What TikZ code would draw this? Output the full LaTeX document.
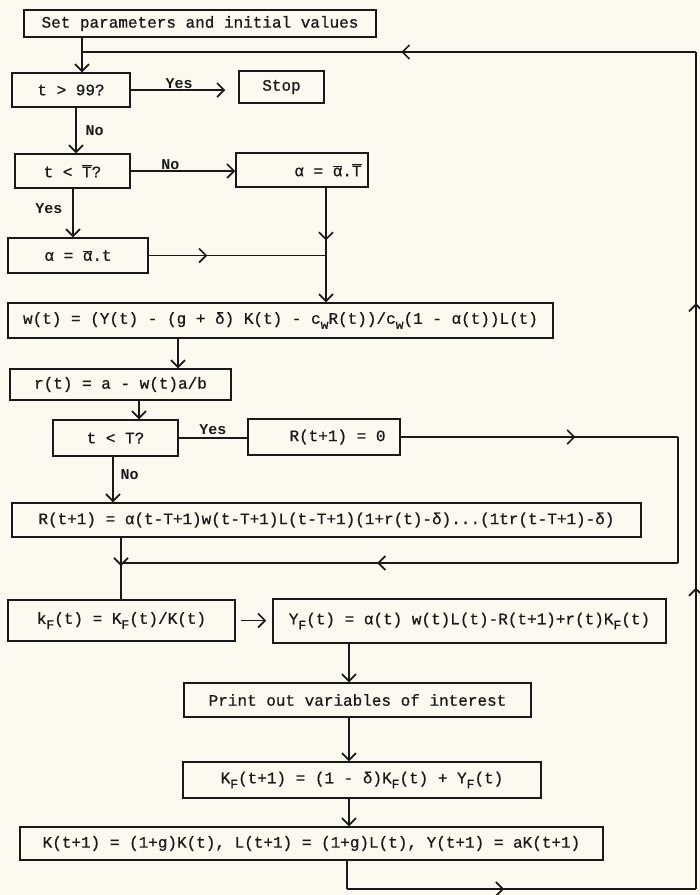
\documentclass[tikz,border=0pt]{standalone}
\usepackage{fontspec}
\newfontfamily\tw[FakeBold=0.7]{Liberation Mono}
\newfontfamily\twb{Liberation Mono Bold}
\usetikzlibrary{arrows.meta,decorations.markings}
\newcommand\ovl[1]{$\overline{\hbox{#1}}$}
\newcommand\sbs[1]{\raisebox{-0.6ex}{\fontsize{13}{13}\selectfont #1}}
\definecolor{paper}{RGB}{251,249,240}
\definecolor{ink}{RGB}{25,25,25}
\tikzset{
  barb/.tip={Straight Barb[length=7pt,width=14pt,line width=1.7pt]},
  box/.style={draw=ink, line width=1.5pt, inner sep=0pt, text=ink,
    font=\tw\fontsize{16}{19}\selectfont},
  txt/.style={inner sep=0pt, text=ink, font=\tw\fontsize{16}{19}\selectfont},
  conn/.style={draw=ink, line width=1.4pt},
  arr/.style={conn, -barb},
  midarr/.style={postaction={decorate, decoration={markings,
    mark=at position #1 with {\arrow{barb}}}}},
  lbl/.style={text=ink, font=\twb\fontsize{15}{15}\selectfont, inner sep=1pt}
}
\begin{document}
\begin{tikzpicture}[x=1pt,y=-1pt]
\fill[paper] (0,0) rectangle (700,895);
\useasboundingbox (0,0) rectangle (700,895);

% nodes
\node[box, minimum width=352pt, minimum height=27pt] (set) at (200,23.5) {Set parameters and initial values};
\node[box, minimum width=118pt, minimum height=34pt] (t99) at (71,90) {t > 99?};
\node[box, minimum width=85pt, minimum height=32pt] (stop) at (281.5,87) {Stop};
\node[box, minimum width=115pt, minimum height=34pt] (tTb) at (72.5,171) {t < \ovl{T}?};
\node[box, minimum width=132pt, minimum height=34pt] (aT) at (302,170) {};
\node[txt, anchor=east] (aTt) at ([xshift=-7pt]aT.east) {α = \ovl{α}.\ovl{T}};
\node[box, minimum width=140pt, minimum height=35pt] (at) at (78,255.5) {α = \ovl{α}.t};
\node[box, minimum width=545pt, minimum height=35pt] (w) at (280.5,320.5) {w(t) = (Y(t) - (g + δ) K(t) - c\sbs{w}R(t))/c\sbs{w}(1 - α(t))L(t)};
\node[box, minimum width=221pt, minimum height=31pt] (r) at (120.5,384.5) {r(t) = a - w(t)a/b};
\node[box, minimum width=125pt, minimum height=36pt] (tT) at (115.5,438) {t < T?};
\node[box, minimum width=152pt, minimum height=36pt] (R0) at (324,437) {};
\node[txt, anchor=east] (R0t) at ([xshift=-15pt]R0.east) {R(t+1) = 0};
\node[box, minimum width=629pt, minimum height=34pt] (R) at (326.5,520) {R(t+1) = α(t-T+1)w(t-T+1)L(t-T+1)(1+r(t)-δ)...(1tr(t-T+1)-δ)};
\node[box, minimum width=227pt, minimum height=41pt] (kF) at (121.5,620.5) {k\sbs{F}(t) = K\sbs{F}(t)/K(t)};
\node[box, minimum width=393pt, minimum height=44pt] (YF) at (469.5,621) {Y\sbs{F}(t) = α(t) w(t)L(t)-R(t+1)+r(t)K\sbs{F}(t)};
\node[box, minimum width=347pt, minimum height=34pt] (print) at (357.5,700) {Print out variables of interest};
\node[box, minimum width=358pt, minimum height=36pt] (KF) at (362,780) {K\sbs{F}(t+1) = (1 - δ)K\sbs{F}(t) + Y\sbs{F}(t)};
\node[box, minimum width=583pt, minimum height=33pt] (K) at (311.5,843.5) {K(t+1) = (1+g)K(t), L(t+1) = (1+g)L(t), Y(t+1) = aK(t+1)};

% lane coordinates
\coordinate (lt) at (82,52);
\coordinate (rt) at (696,52);
\coordinate (rb) at (696,889);
\coordinate (lb) at (347,889);
\coordinate (x76) at (76,0);
\coordinate (x73) at (73,0);
\coordinate (x326) at (326,0);
\coordinate (x178) at (178,0);
\coordinate (x139) at (139,0);
\coordinate (x113) at (113,0);
\coordinate (x121) at (121,0);
\coordinate (x349) at (349,0);
\coordinate (c1) at (678,434);
\coordinate (c2) at (678,563);

% connectors
\draw[arr] (set.south -| lt) -- (t99.north -| lt);
\draw[arr, shorten >=13pt] (t99.east) -- node[lbl, above, pos=0.45] {Yes} (t99.east -| stop.west);
\draw[arr] (t99.south -| x76) -- node[lbl, right=8pt] {No} (tTb.north -| x76);
\draw[arr] (tTb.east) -- node[lbl, above, pos=0.38] {No} (tTb.east -| aT.west);
\draw[arr] (tTb.south -| x73) -- node[lbl, left=9pt, pos=0.4] {Yes} (at.north -| x73);
\draw[arr, midarr=0.46] (aT.south -| x326) -- (w.north -| x326);
\draw[conn, midarr=0.33] (at.east) -- (at.east -| x326);
\draw[arr] (w.south -| x178) -- (r.north -| x178);
\draw[arr] (r.south -| x139) -- (tT.north -| x139);
\draw[conn] (tT.east) -- node[lbl, above=2pt] {Yes} (tT.east -| R0.west);
\draw[arr] (tT.south -| x113) -- node[lbl, right=6pt, pos=0.4] {No} (R.north -| x113);
\draw[conn, midarr=0.63] (R0.east) -- (R0.east -| c1);
\draw[conn] (R0.east -| c1) -- (c2);
\draw[conn, midarr=0.54] (c2) -- (c2 -| x121);
\draw[conn, midarr=0.46] (R.south -| x121) -- (kF.north -| x121);
\draw[arr, shorten <=5pt, shorten >=6pt] (kF.east) -- (kF.east -| YF.west);
\draw[arr] (YF.south -| x349) -- (print.north -| x349);
\draw[arr] (print.south -| x349) -- (KF.north -| x349);
\draw[arr] (KF.south -| x349) -- (K.north -| x349);
\draw[conn] (K.south -| lb) -- (lb);
\draw[conn, midarr=0.45] (lb) -- (rb);
\draw[conn, postaction={decorate, decoration={markings,
    mark=at position 0.36 with {\arrow{barb}},
    mark=at position 0.70 with {\arrow{barb}}}}] (rb) -- (rt);
\draw[conn, midarr=0.48] (rt) -- (lt);
\end{tikzpicture}
\end{document}
